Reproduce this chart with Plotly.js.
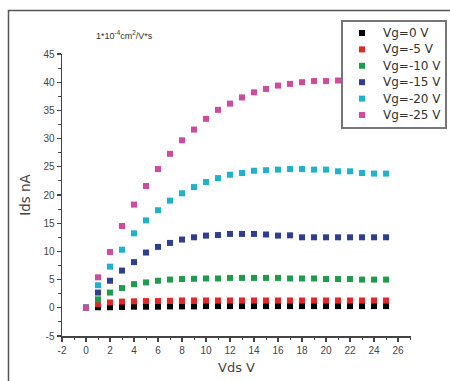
<!DOCTYPE html>
<html>
<head>
<meta charset="utf-8">
<script src="https://cdn.plot.ly/plotly-3.0.1.min.js"></script>
<style>
html,body{margin:0;padding:0;background:#fff;}
#chart{width:450px;height:381px;}
</style>
</head>
<body>
<div id="chart"></div>
<script>
const vds = [0,1,2,3,4,5,6,7,8,9,10,11,12,13,14,15,16,17,18,19,20,21,22,23,24,25];
const seriesNames = ["Vg=0 V","Vg=-5 V","Vg=-10 V","Vg=-15 V","Vg=-20 V","Vg=-25 V"];
const ids_vg0   = [0,0.1,0.1,0.15,0.2,0.2,0.2,0.25,0.25,0.25,0.3,0.3,0.3,0.3,0.3,0.3,0.3,0.3,0.3,0.3,0.3,0.3,0.3,0.3,0.3,0.3];
const ids_vg5   = [0,0.65,0.95,1.1,1.15,1.2,1.2,1.25,1.3,1.3,1.3,1.3,1.3,1.3,1.3,1.3,1.3,1.3,1.3,1.3,1.3,1.3,1.3,1.3,1.3,1.3];
const ids_vg10  = [0,1.5,2.7,3.5,4.2,4.5,4.8,5.0,5.1,5.15,5.2,5.2,5.3,5.3,5.3,5.3,5.3,5.2,5.2,5.2,5.1,5.1,5.1,5.0,5.0,5.0];
const ids_vg15  = [0,2.7,4.8,6.6,8.1,9.8,10.8,11.5,12.1,12.5,12.8,12.9,13.1,13.1,13.1,13.0,12.8,12.85,12.5,12.5,12.5,12.5,12.5,12.5,12.5,12.5];
const ids_vg20  = [0,4.0,7.3,10.3,13.2,15.5,17.3,19.0,20.3,21.4,22.3,23.0,23.6,23.9,24.3,24.4,24.5,24.6,24.6,24.5,24.5,24.2,24.2,23.9,23.8,23.8];
const ids_vg25  = [0,5.4,9.9,14.5,18.3,21.6,24.6,27.3,29.7,31.6,33.5,35.1,36.2,37.3,38.2,38.8,39.4,39.7,40.0,40.2,40.2,40.3,40.2,40.1,40.0,39.9];
const allSeries = [ids_vg0, ids_vg5, ids_vg10, ids_vg15, ids_vg20, ids_vg25];
const xTickVals = [-2,0,2,4,6,8,10,12,14,16,18,20,22,24,26];
const yTickVals = [-5,0,5,10,15,20,25,30,35,40,45];
const colors = ["#000000","#ee2424","#1a9e4a","#2e3d96","#1ab4d2","#d4489e"];

const traces = allSeries.map((ys, i) => ({
  x: vds, y: ys, type: "scatter", mode: "markers", name: seriesNames[i],
  marker: {symbol: "square", size: 6, color: colors[i]},
  cliponaxis: false, showlegend: false
}));

const L = 62, R = 411, T = 54, B = 336;
const W = R - L, H = B - T;
const px = v => (v - L) / W;
const py = v => (B - v) / H;

const tickFont = {family: "Liberation Sans, Arial, sans-serif", size: 10, color: "#444"};
const axisCommon = {
  showgrid: false, zeroline: false, showline: true, linecolor: "#444", linewidth: 1.5,
  ticks: "outside", ticklen: 4, tickwidth: 1.2, tickcolor: "#444",
  tickfont: tickFont, mirror: false
};

// custom legend box (matches the compact spacing of the original)
const legL = 342, legR = 446, legT = 21, legB = 128;
const legendShapes = [{
  type: "rect", xref: "paper", yref: "paper",
  x0: px(legL), x1: px(legR), y0: py(legB), y1: py(legT),
  line: {color: "#777", width: 2}, fillcolor: "#fff", layer: "above"
}];
const legendAnn = [];
seriesNames.forEach((name, i) => {
  const yc = 33 + i * 16.4;
  legendShapes.push({
    type: "rect", xref: "paper", yref: "paper",
    xsizemode: "pixel", ysizemode: "pixel",
    xanchor: px(362), yanchor: py(yc),
    x0: -3, x1: 3, y0: -3, y1: 3,
    line: {width: 0}, fillcolor: colors[i], layer: "above"
  });
  legendAnn.push({
    xref: "paper", yref: "paper", x: px(381), y: py(yc), xanchor: "left", yanchor: "middle",
    text: name, showarrow: false,
    font: {family: "DejaVu Sans, sans-serif", size: 12, color: "#333"}
  });
});

const layout = {
  width: 450, height: 381,
  margin: {l: L, r: 450 - R, t: T, b: 381 - B},
  paper_bgcolor: "#fff", plot_bgcolor: "#fff",
  showlegend: false,
  xaxis: Object.assign({}, axisCommon, {
    range: [-2, 27.08], tickvals: xTickVals, ticktext: xTickVals.map(String),
    minor: {dtick: 1, tick0: -1, ticks: "outside", ticklen: 2.5, tickcolor: "#444", tickwidth: 1},
    title: {text: "Vds V", font: {family: "DejaVu Sans, sans-serif", size: 13, color: "#444"}, standoff: 8}
  }),
  yaxis: Object.assign({}, axisCommon, {
    range: [-5, 45], tickvals: yTickVals, ticktext: yTickVals.map(String),
    minor: {dtick: 2.5, tick0: -2.5, ticks: "outside", ticklen: 2.5, tickcolor: "#444", tickwidth: 1},
    title: {text: "Ids nA", font: {family: "DejaVu Sans, sans-serif", size: 13.5, color: "#444"}, standoff: 9}
  }),
  annotations: [{
    xref: "paper", yref: "paper", x: px(94), y: py(35), xanchor: "left", yanchor: "middle",
    text: "1*10<sup>-4</sup>cm<sup>2</sup>/V*s", showarrow: false,
    font: {family: "Liberation Sans, Arial, sans-serif", size: 9, color: "#333"}
  }].concat(legendAnn),
  shapes: [{
    type: "rect", xref: "paper", yref: "paper",
    x0: px(8.5), x1: px(470), y0: py(400), y1: py(10.5),
    line: {color: "#555", width: 1.5}, fillcolor: "rgba(0,0,0,0)", layer: "below"
  }].concat(legendShapes)
};

Plotly.newPlot("chart", traces, layout, {displayModeBar: false, staticPlot: true});
</script>
</body>
</html>
